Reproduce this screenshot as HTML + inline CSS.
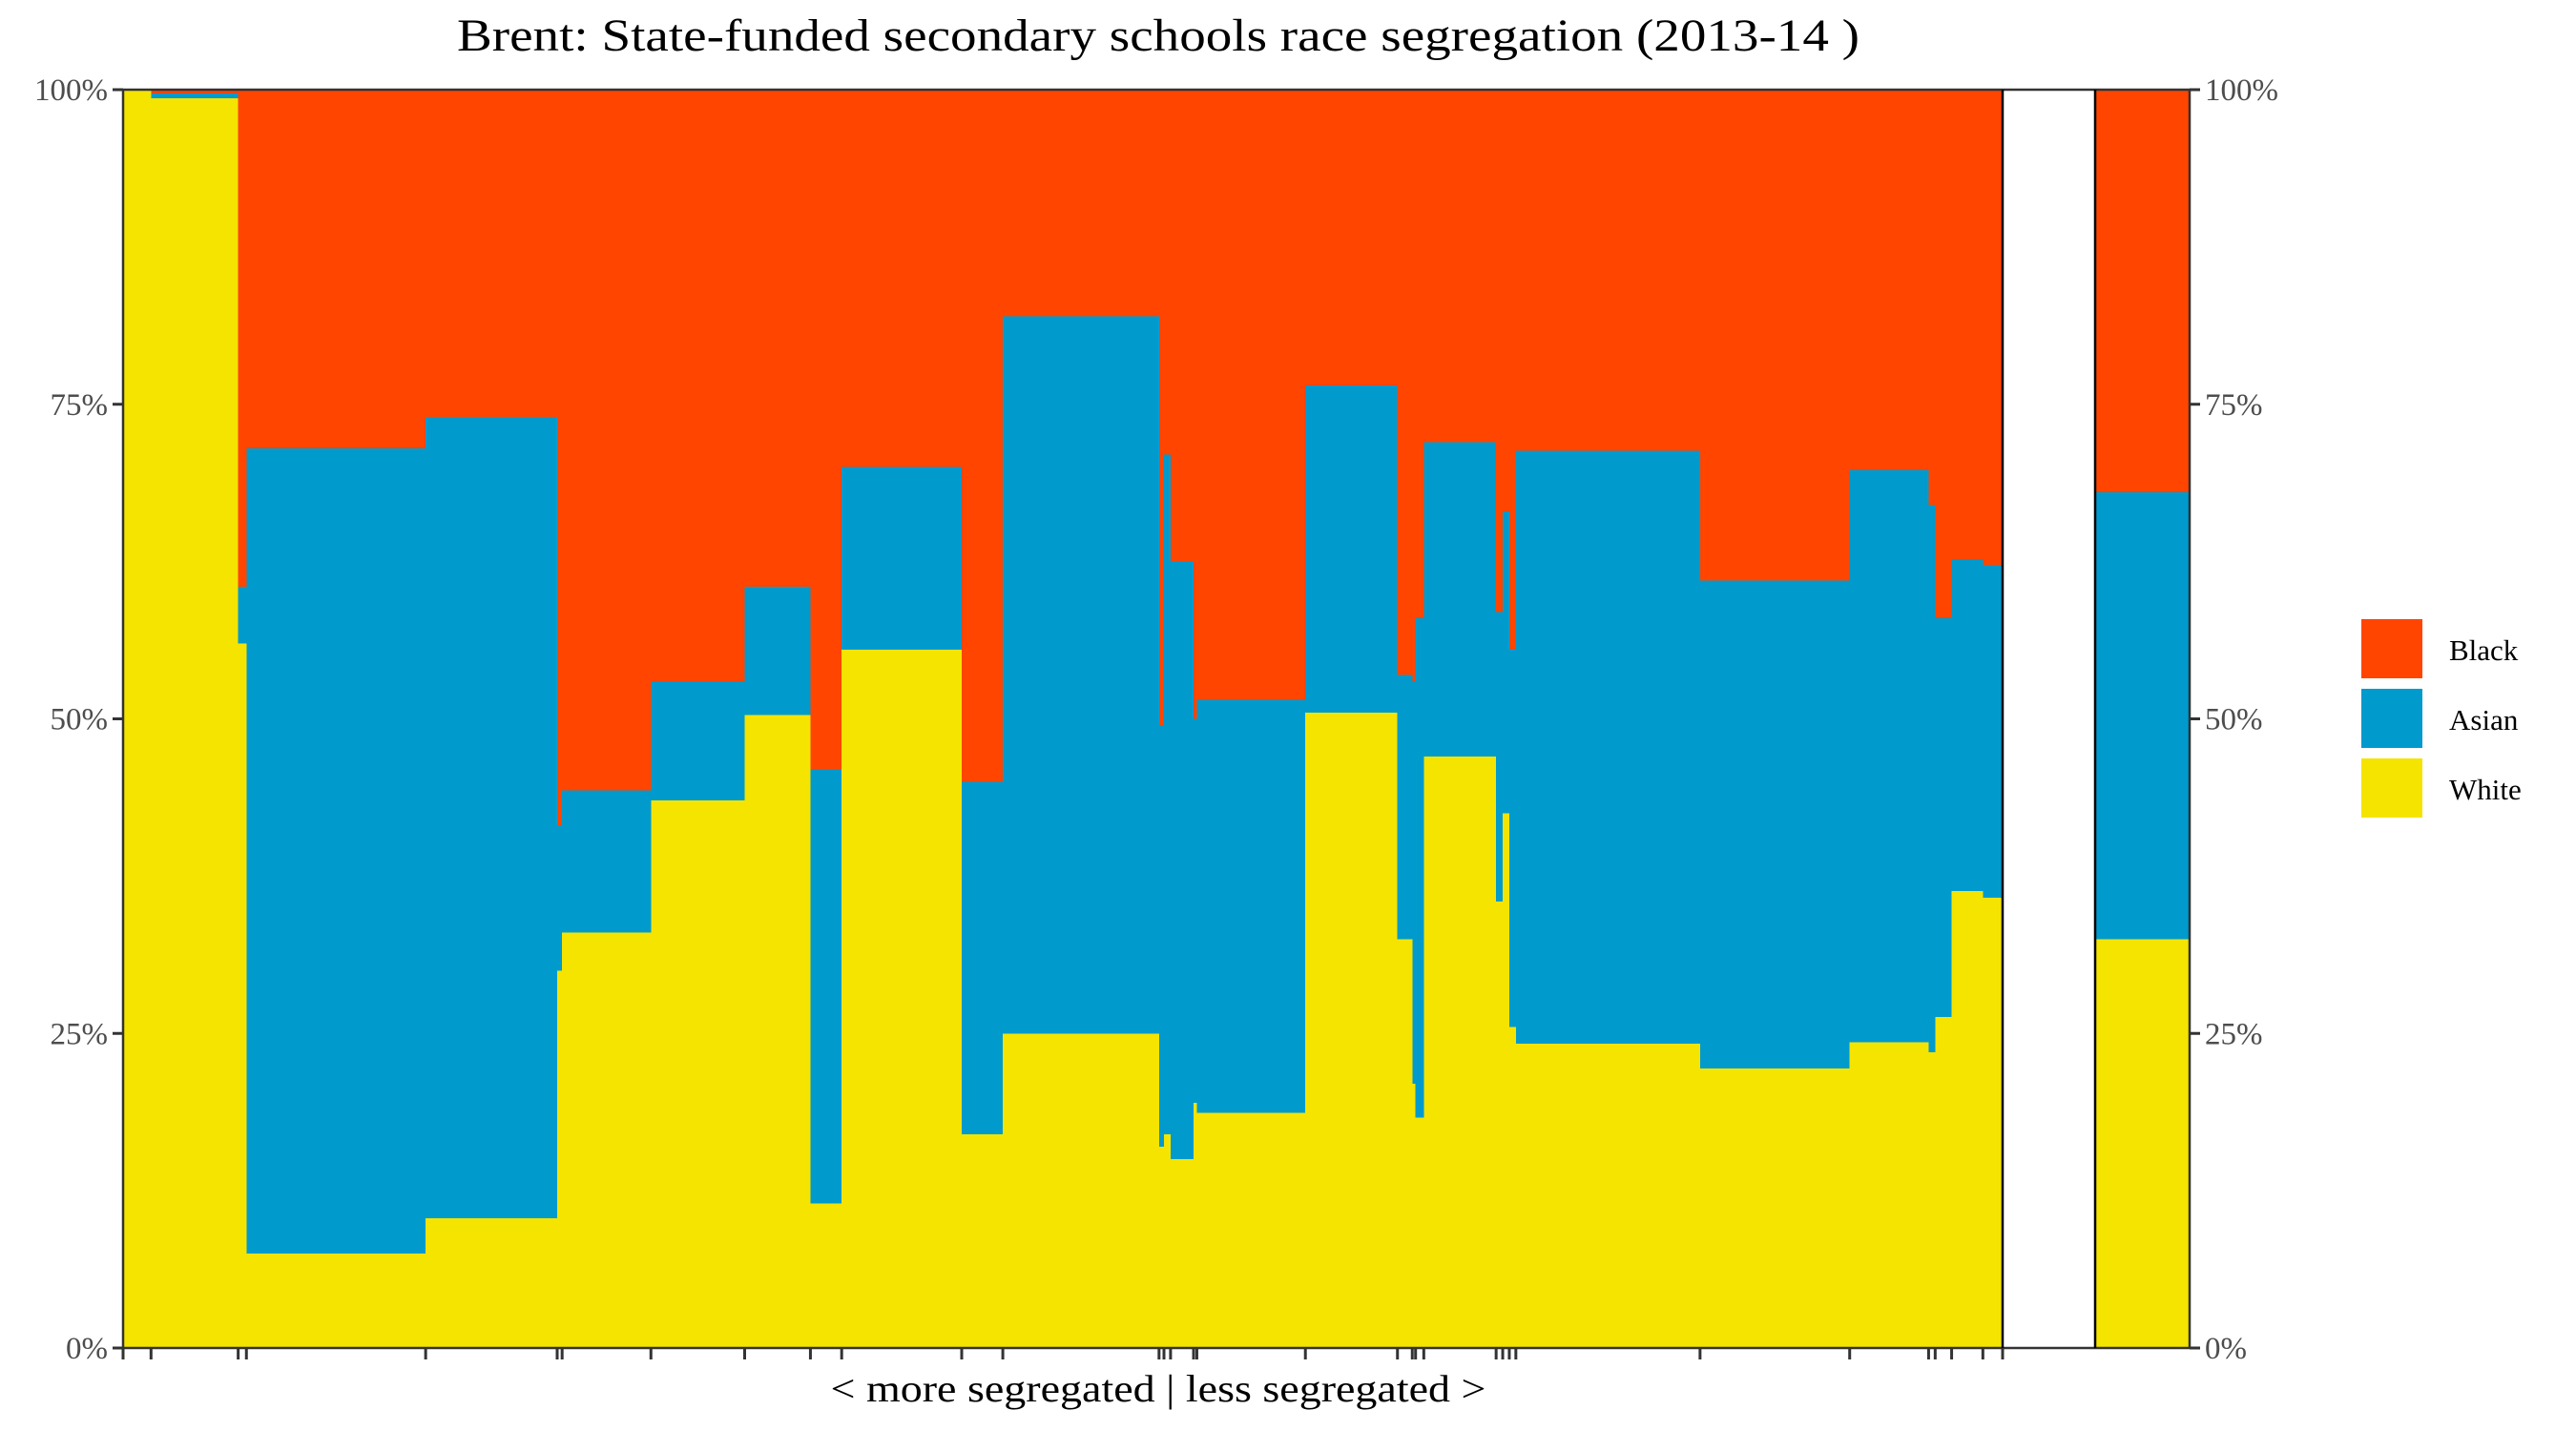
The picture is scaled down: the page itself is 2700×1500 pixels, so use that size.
<!DOCTYPE html>
<html><head><meta charset="utf-8">
<style>
html,body{margin:0;padding:0;background:#fff;}
svg{display:block;}
text{font-family:"Liberation Serif","DejaVu Serif",serif;}
</style></head>
<body>
<svg id="chart" width="2700" height="1500" viewBox="0 0 2700 1500" xmlns="http://www.w3.org/2000/svg">
<text x="1214" y="53" font-size="48" text-anchor="middle" textLength="1470" lengthAdjust="spacingAndGlyphs" fill="#000">Brent: State-funded secondary schools race segregation (2013-14 )</text>
<text x="1214" y="1469" font-size="40" text-anchor="middle" textLength="687" lengthAdjust="spacingAndGlyphs" fill="#000">&lt; more segregated | less segregated &gt;</text>
<g id="marks"></g>
<g id="axes"></g>
<g>
<rect x="2475" y="649" width="64" height="62" fill="#FF4500"/>
<rect x="2475" y="722" width="64" height="62" fill="#009ACD"/>
<rect x="2475" y="795" width="64" height="62" fill="#F4E400"/>
<text x="2567" y="692" font-size="31" fill="#000">Black</text>
<text x="2567" y="765" font-size="31" fill="#000">Asian</text>
<text x="2567" y="838" font-size="31" fill="#000">White</text>
</g>
</svg>
<script>
// school widths (relative size) in segregation order
const schoolSizes = [17,53,5,109,80,3,54,57,40,19,73,25,95,3,4,14,2,66,56,9,2,5,44,4,4,4,112,91,48,4,10,19,12];
// percent white per school
const whiteShare = [100,99.3,56,7.5,10.3,30,33,43.5,50.3,11.5,55.5,17,25,16,17,15,19.5,18.7,50.5,32.5,21,18.3,47,35.5,42.5,25.5,24.2,22.2,24.3,23.5,26.3,36.3,35.8];
// percent asian per school
const asianShare = [0,0.4,4.5,64,63.7,11.5,11.3,9.5,10.2,34.5,14.5,28,57,33.5,54,47.5,30.5,32.8,26,21,32,39.7,25,23,24,30,47.1,38.8,45.5,43.5,31.7,26.4,26.4];
// borough totals
const totalWhite = 32.5;
const totalAsian = 35.5;
const yTicks = [0,25,50,75,100];
const yTickLabels = ["0%","25%","50%","75%","100%"];

const NS="http://www.w3.org/2000/svg";
const P1L=129,P1R=2099,P2L=2196,P2R=2295,TOP=94,BOT=1413;
const C_BLACK="#FF4500",C_ASIAN="#009ACD",C_WHITE="#F4E400";
const totalSize = schoolSizes.reduce((a,b)=>a+b,0);
function xScale(cum){return P1L+(P1R-P1L)*cum/totalSize;}
function yScale(p){return BOT-(BOT-TOP)*p/100;}
const marks=document.getElementById('marks');
const axes=document.getElementById('axes');
function rect(g,x0,x1,p0,p1,fill){
  const r=document.createElementNS(NS,'rect');
  r.setAttribute('x',x0);r.setAttribute('width',Math.max(0,x1-x0));
  r.setAttribute('y',yScale(p1));r.setAttribute('height',Math.max(0,yScale(p0)-yScale(p1)));
  r.setAttribute('fill',fill);r.setAttribute('shape-rendering','crispEdges');
  g.appendChild(r);return r;
}
function line(x1,y1,x2,y2,col,w){
  const l=document.createElementNS(NS,'line');
  l.setAttribute('x1',x1);l.setAttribute('y1',y1);l.setAttribute('x2',x2);l.setAttribute('y2',y2);
  l.setAttribute('stroke',col);l.setAttribute('stroke-width',w);
  axes.appendChild(l);return l;
}
let cum=0;
schoolSizes.forEach((s,i)=>{
  const x0=xScale(cum),x1=xScale(cum+s);
  const g=document.createElementNS(NS,'g');
  
  
  const w=whiteShare[i],a=asianShare[i];
  const rw=rect(g,x0,x1,0,w,C_WHITE);
  
  
  const ra=rect(g,x0,x1,w,w+a,C_ASIAN);
  
  
  const rb=rect(g,x0,x1,w+a,100,C_BLACK);
  
  
  marks.appendChild(g);
  cum+=s;
  const t=line(x1,BOT,x1,BOT+12,'#333',3);
  
  
});
// total bar
const tg=document.createElementNS(NS,'g');


const tw=rect(tg,P2L,P2R,0,totalWhite,C_WHITE);


const ta=rect(tg,P2L,P2R,totalWhite,totalWhite+totalAsian,C_ASIAN);


const tb=rect(tg,P2L,P2R,totalWhite+totalAsian,100,C_BLACK);


marks.appendChild(tg);
// frames
const f1=line(P1L,TOP,P2R,TOP,'#333',2.5);


const f2=line(P1L,BOT,P2R,BOT,'#333',2.5);


const f3=line(P1L,TOP,P1L,BOT,'#333',2.5);


const f4=line(P1R,TOP,P1R,BOT,'#000',2.5);


const f5=line(P2L,TOP,P2L,BOT,'#000',2.5);


const f6=line(P2R,TOP,P2R,BOT,'#333',2.5);


const t0=line(P1L,BOT,P1L,BOT+12,'#333',3);


yTicks.forEach((v,i)=>{
  const y=yScale(v);
  const l1=line(P1L-11,y,P1L,y,'#333',3);
  
  
  const l2=line(P2R,y,P2R+11,y,'#333',3);
  
  
  const a=document.createElementNS(NS,'text');
  a.setAttribute('x',P1L-16);a.setAttribute('y',y+11);
  a.setAttribute('text-anchor','end');a.setAttribute('font-size','33');a.setAttribute('fill','#4d4d4d');
  a.textContent=yTickLabels[i];
  
  
  axes.appendChild(a);
  const b=document.createElementNS(NS,'text');
  b.setAttribute('x',P2R+16);b.setAttribute('y',y+11);
  b.setAttribute('font-size','33');b.setAttribute('fill','#4d4d4d');
  b.textContent=yTickLabels[i];
  
  
  axes.appendChild(b);
});
</script>
</body></html>
